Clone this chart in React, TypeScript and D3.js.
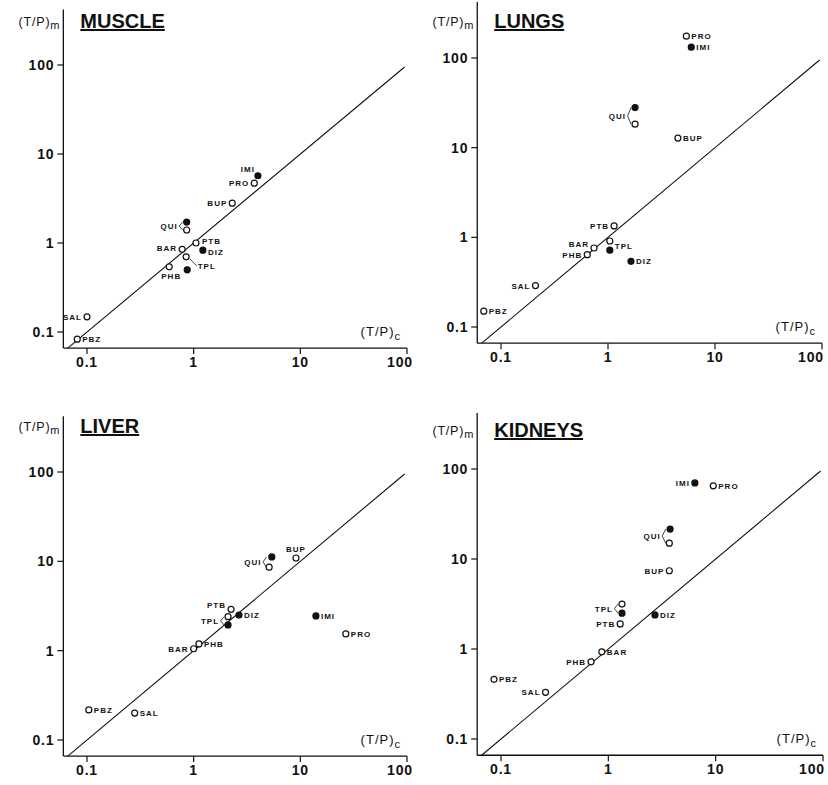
import React from "react";
import * as d3 from "d3";

// ---------- data ----------
const tickValues = [0.1, 1, 10, 100];
const tickLabels = ["0.1", "1", "10", "100"];

const openDrugs = ["PBZ", "SAL", "PHB", "BAR", "TPL", "PTB", "QUI", "BUP", "PRO"];
const filledDrugs = ["TPL", "DIZ", "QUI", "IMI"];

const muscleOpenC = [0.081, 0.1, 0.59, 0.78, 0.85, 1.05, 0.86, 2.3, 3.7];
const muscleOpenM = [0.083, 0.148, 0.54, 0.85, 0.7, 1.0, 1.4, 2.8, 4.7];
const muscleFilledC = [0.87, 1.22, 0.86, 4.0];
const muscleFilledM = [0.5, 0.83, 1.72, 5.7];

const lungsOpenC = [0.069, 0.21, 0.64, 0.74, 1.04, 1.14, 1.79, 4.5, 5.4];
const lungsOpenM = [0.15, 0.29, 0.64, 0.76, 0.91, 1.34, 18.3, 12.8, 175];
const lungsFilledC = [1.04, 1.64, 1.79, 6.0];
const lungsFilledM = [0.72, 0.54, 28, 132];

const liverOpenC = [0.104, 0.28, 1.12, 1.0, 2.1, 2.24, 5.1, 9.1, 26.7];
const liverOpenM = [0.217, 0.2, 1.19, 1.05, 2.4, 2.9, 8.6, 10.9, 1.54];
const liverFilledC = [2.1, 2.66, 5.4, 14];
const liverFilledM = [1.94, 2.5, 11.2, 2.45];

const kidneysOpenC = [0.086, 0.26, 0.69, 0.87, 1.34, 1.29, 3.7, 3.7, 9.5];
const kidneysOpenM = [0.46, 0.33, 0.72, 0.93, 3.16, 1.9, 15, 7.4, 65];
const kidneysFilledC = [1.34, 2.72, 3.76, 6.4];
const kidneysFilledM = [2.5, 2.39, 21.5, 70];

const organs = ["MUSCLE", "LUNGS", "LIVER", "KIDNEYS"];

// ---------- layout (pixels / label placement) ----------
type LabelPos = [string, number, number];
const layouts = [
  {
    xr: [87, 407], yr: [332, 65], titleY: 28,
    labels: {
      PBZ: ["r", 0, 0], SAL: ["l", 0, 0], PHB: ["b", 2, 0], BAR: ["l", 0, -1], TPL: ["br", 0, 0],
      PTB: ["r", 1, -2], QUI: ["l", 0, 0], BUP: ["l", 0, 0], PRO: ["l", 0, 0], IMI: ["tl", 0, 0], DIZ: ["r", 0, 2],
    } as Record<string, LabelPos>,
  },
  {
    xr: [501, 822], yr: [327, 58], titleY: 28,
    labels: {
      PBZ: ["r", 0, 0], SAL: ["l", 0, 0], PHB: ["l", 0, 0], BAR: ["l", 0, -4], TPL: ["r", 0, 0],
      PTB: ["l", 0, 0], QUI: ["l", 0, 0], BUP: ["r", 0, 0], PRO: ["r", 0, 0], IMI: ["r", 0, 0], DIZ: ["r", 0, 0],
    } as Record<string, LabelPos>,
  },
  {
    xr: [87, 407], yr: [740, 472], titleY: 433,
    labels: {
      PBZ: ["r", 0, 0], SAL: ["r", 0, 0], PHB: ["r", 0, 0], BAR: ["l", 0, 0], TPL: ["l", 0, 0],
      PTB: ["l", 0, -4], QUI: ["l", 0, 0], BUP: ["t", 0, 0], PRO: ["r", 0, 0], IMI: ["r", 0, 0], DIZ: ["r", 0, 0],
    } as Record<string, LabelPos>,
  },
  {
    xr: [501, 823], yr: [739, 469], titleY: 437,
    labels: {
      PBZ: ["r", 0, 0], SAL: ["l", 0, 0], PHB: ["l", 0, 0], BAR: ["r", 0, 0], TPL: ["l", 0, 0],
      PTB: ["l", 0, 0], QUI: ["l", 0, 0], BUP: ["l", 0, 0], PRO: ["r", 0, 0], IMI: ["l", 0, 0], DIZ: ["r", 0, 0],
    } as Record<string, LabelPos>,
  },
];

const panelData = [
  { oc: muscleOpenC, om: muscleOpenM, fc: muscleFilledC, fm: muscleFilledM },
  { oc: lungsOpenC, om: lungsOpenM, fc: lungsFilledC, fm: lungsFilledM },
  { oc: liverOpenC, om: liverOpenM, fc: liverFilledC, fm: liverFilledM },
  { oc: kidneysOpenC, om: kidneysOpenM, fc: kidneysFilledC, fm: kidneysFilledM },
];

const FONT = "'Liberation Sans', Arial, Helvetica, sans-serif";
const INK = "#111";

function Panel({ idx }: { idx: number }) {
  const lay = layouts[idx];
  const d = panelData[idx];
  const x = d3.scaleLog().domain([0.1, 100]).range(lay.xr);
  const y = d3.scaleLog().domain([0.1, 100]).range(lay.yr);

  const xMin = 0.06, xMax = 100, yMin = 0.066, yMax = 420;
  const ax = x(xMin);
  const ay = y(yMin);
  const diag = d3.line<number>().x((v) => x(v)).y((v) => y(v));

  type P = { drug: string; c: number; m: number; filled: boolean };
  const pts: P[] = [
    ...openDrugs.map((dr, i) => ({ drug: dr, c: d.oc[i], m: d.om[i], filled: false })),
    ...filledDrugs.map((dr, i) => ({ drug: dr, c: d.fc[i], m: d.fm[i], filled: true })),
  ];
  const groups = d3.group(pts, (p) => p.drug);

  const labelEls: React.ReactNode[] = [];
  groups.forEach((gp, drug) => {
    const [pos, ddx, ddy] = lay.labels[drug] || ["r", 0, 0];
    const px = d3.mean(gp, (p) => x(p.c)) as number;
    const ys = gp.map((p) => y(p.m));
    const midY = d3.mean(ys) as number;
    const two = gp.length > 1;
    let tx = px, ty = midY + 3, anchor: "start" | "end" | "middle" = "start";
    const extra: React.ReactNode[] = [];
    if (pos === "l") {
      anchor = "end";
      tx = px - (two ? 9 : 5);
      if (two) {
        const y1 = d3.min(ys) as number, y2 = d3.max(ys) as number;
        extra.push(
          <path key={drug + "b"} d={`M${px - 4},${y1} L${px - 7.5},${midY} L${px - 4},${y2}`} fill="none" stroke={INK} strokeWidth={0.8} />
        );
      }
    } else if (pos === "r") {
      anchor = "start";
      tx = px + 5;
    } else if (pos === "t") {
      anchor = "middle";
      ty = (d3.min(ys) as number) - 6;
    } else if (pos === "b") {
      anchor = "middle";
      ty = (d3.max(ys) as number) + 12;
    } else if (pos === "tl") {
      anchor = "end";
      tx = px - 3;
      ty = midY - 4;
    } else if (pos === "br") {
      anchor = "start";
      tx = px + 11;
      ty = (d3.min(ys) as number) + 12;
      extra.push(
        <line key={drug + "ln"} x1={px + 3} y1={(d3.min(ys) as number) + 2} x2={px + 10} y2={ty - 3} stroke={INK} strokeWidth={0.8} />
      );
    }
    labelEls.push(
      <g key={drug}>
        {extra}
        <text x={tx + ddx} y={ty + ddy} textAnchor={anchor} fontSize={8} fontWeight="bold" letterSpacing={1} fill={INK} fontFamily={FONT}>
          {drug}
        </text>
      </g>
    );
  });

  const rightPanel = idx % 2 === 1;

  return (
    <g>
      {/* axes */}
      <line x1={ax} y1={y(yMax)} x2={ax} y2={ay} stroke={INK} strokeWidth={1.3} />
      <line x1={ax} y1={ay} x2={x(xMax)} y2={ay} stroke={INK} strokeWidth={1.3} />
      {tickValues.map((v, i) => (
        <g key={"yt" + i}>
          <line x1={ax - 6} x2={ax} y1={y(v)} y2={y(v)} stroke={INK} strokeWidth={1.2} />
          <text x={ax - 9} y={y(v) + 5} textAnchor="end" fontSize={14} fontWeight="bold" letterSpacing={0.8} fill={INK} fontFamily={FONT}>
            {tickLabels[i]}
          </text>
        </g>
      ))}
      {tickValues.map((v, i) => (
        <g key={"xt" + i}>
          <line x1={x(v)} x2={x(v)} y1={ay} y2={ay + 6} stroke={INK} strokeWidth={1.2} />
          <text
            x={x(v) - (i === 3 ? (rightPanel ? 11 : 7) : 0)}
            y={ay + 19}
            textAnchor="middle"
            fontSize={14}
            fontWeight="bold"
            letterSpacing={0.8}
            fill={INK}
            fontFamily={FONT}
          >
            {tickLabels[i]}
          </text>
        </g>
      ))}
      {/* axis titles */}
      <text x={ax - 3} y={lay.titleY - 2} textAnchor="end" fontSize={12.5} fill={INK} fontFamily={FONT} letterSpacing={0.8}>
        (T/P)
        <tspan fontSize={11} dy={3}>m</tspan>
      </text>
      <text x={x(xMax) - 6} y={ay - 12} textAnchor="end" fontSize={13} fill={INK} fontFamily={FONT} letterSpacing={1}>
        (T/P)
        <tspan fontSize={11} dy={4}>c</tspan>
      </text>
      {/* organ title */}
      <text x={ax + 17} y={lay.titleY} fontSize={20} fontWeight="bold" fill={INK} fontFamily={FONT} textDecoration="underline">
        {organs[idx]}
      </text>
      {/* identity line */}
      <path d={diag([0.066, 95]) as string} fill="none" stroke={INK} strokeWidth={1.1} />
      {/* points */}
      {pts.map((p, i) => (
        <circle key={"p" + i} cx={x(p.c)} cy={y(p.m)} r={3} fill={p.filled ? INK : "#fff"} stroke={INK} strokeWidth={1.2} />
      ))}
      {labelEls}
    </g>
  );
}

export default function App() {
  return (
    <svg width={828} height={785} style={{ position: "absolute", left: 0, top: 0, background: "#fff" }}>
      <rect width={828} height={785} fill="#fff" />
      {organs.map((_, i) => (
        <Panel key={i} idx={i} />
      ))}
    </svg>
  );
}
